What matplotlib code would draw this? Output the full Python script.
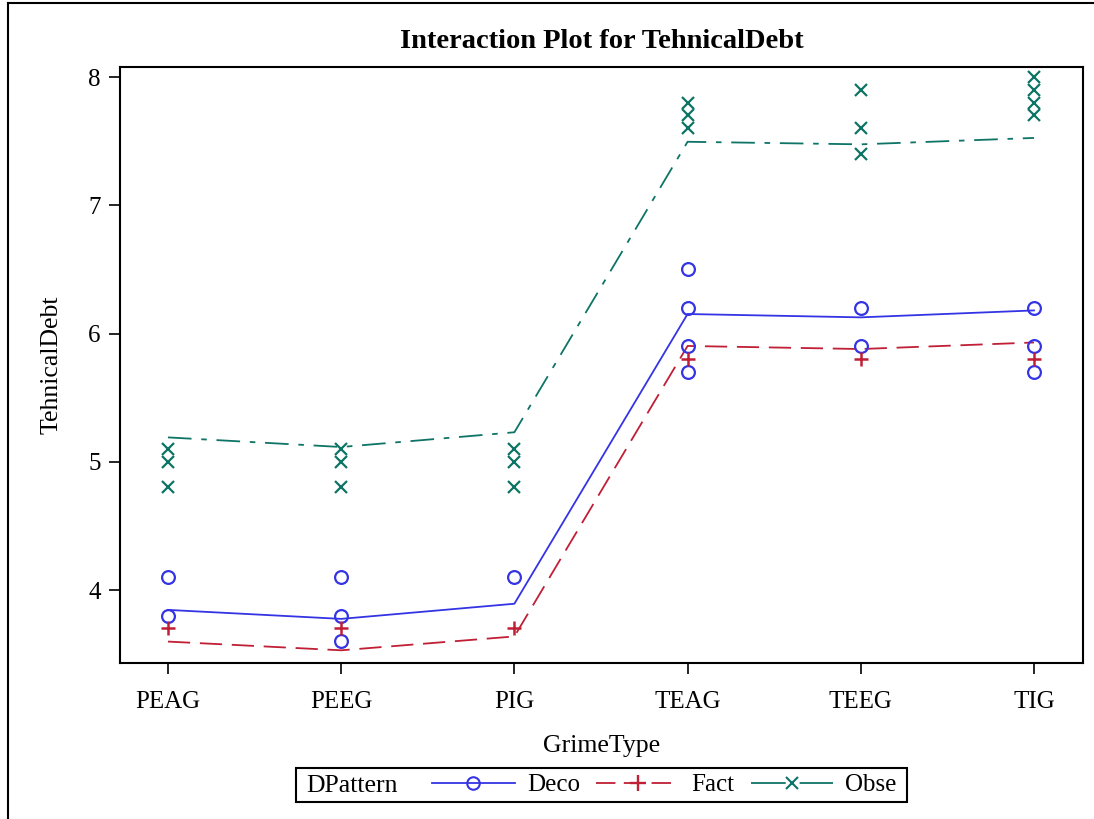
import matplotlib
matplotlib.use("Agg")
import matplotlib.pyplot as plt
from matplotlib.lines import Line2D
from matplotlib.patches import Rectangle

plt.rcParams['font.family'] = ['Liberation Serif', 'DejaVu Serif']
plt.rcParams['lines.scale_dashes'] = False

categories = ['PEAG', 'PEEG', 'PIG', 'TEAG', 'TEEG', 'TIG']
series = ['Deco', 'Fact', 'Obse']

# model-fitted lines (means)
deco_line = [3.845, 3.775, 3.893, 6.152, 6.126, 6.180]
fact_line = [3.598, 3.530, 3.638, 5.903, 5.879, 5.930]
obse_line = [5.190, 5.115, 5.230, 7.495, 7.475, 7.525]

# observed points (category index, value)
deco_pts_x = [0, 0, 1, 1, 1, 2, 3, 3, 3, 3, 4, 4, 5, 5, 5]
deco_pts_y = [4.1, 3.8, 4.1, 3.8, 3.6, 4.1, 6.5, 6.2, 5.9, 5.7, 6.2, 5.9, 6.2, 5.9, 5.7]
fact_pts_x = [0, 1, 2, 3, 4, 5]
fact_pts_y = [3.7, 3.7, 3.7, 5.8, 5.8, 5.8]
obse_pts_x = [0, 0, 0, 1, 1, 1, 2, 2, 2, 3, 3, 3, 4, 4, 4, 5, 5, 5, 5]
obse_pts_y = [5.1, 5.0, 4.8, 5.1, 5.0, 4.8, 5.1, 5.0, 4.8, 7.8, 7.7, 7.6,
              7.9, 7.6, 7.4, 8.0, 7.9, 7.8, 7.7]

blue = '#3434e4'
red = '#c01f35'
teal = '#0d7466'

fig = plt.figure(figsize=(10.94, 8.19), dpi=100)
ax = fig.add_axes([120/1094, 1-663/819, (1083-120)/1094, (663-67)/819])

xs = list(range(len(categories)))
ax.plot(xs, deco_line, color=blue, lw=1.3, ls='-')
ax.plot(xs, fact_line, color=red, lw=1.3, dashes=(16, 7))
ax.plot(xs, obse_line, color=teal, lw=1.3, dashes=(17, 7, 4, 7))

ms = 9.2
ax.plot(deco_pts_x, deco_pts_y, ls='none', marker='o', mfc='none', mec=blue, mew=1.6, ms=ms)
ax.plot(fact_pts_x, fact_pts_y, ls='none', marker='+', color=red, mew=1.8, ms=ms+1)
ax.plot(obse_pts_x, obse_pts_y, ls='none', marker='x', color=teal, mew=1.6, ms=ms-1)

ax.set_xlim(-0.277, 5.283)
ax.set_ylim(3.431, 8.078)
ax.set_xticks(xs)
ax.set_xticklabels(categories)
ax.set_yticks([4, 5, 6, 7, 8])
ax.tick_params(axis='both', direction='out', length=8, width=1.2, labelsize=18)
ax.tick_params(axis='x', pad=12)
ax.tick_params(axis='y', pad=6)
for s in ax.spines.values():
    s.set_linewidth(1.5)

ax.set_xlabel('GrimeType', fontsize=18.5, labelpad=16)
ax.set_ylabel('TehnicalDebt', fontsize=18.5, labelpad=18)
ax.set_title('Interaction Plot for TehnicalDebt', fontsize=20.5, fontweight='bold', pad=14)

# legend
handles = [
    Line2D([], [], color=blue, lw=1.3, marker='o', mfc='none', mec=blue, mew=1.5, ms=9),
    Line2D([], [], color=red, lw=1.3, dashes=(14, 6), marker='+', mew=1.7, ms=11),
    Line2D([], [], color=teal, lw=1.3, dashes=(25, 10), marker='x', mew=1.5, ms=8),
]
leg = fig.legend(handles, series, loc='center left', bbox_to_anchor=(432/1094, 1-785/819),
                 ncol=3, frameon=False, fontsize=18, handlelength=3.3,
                 handletextpad=0.5, columnspacing=0.65, borderaxespad=0, borderpad=0)
fig.text(306/1094, 1-786/819, 'DPattern', fontsize=18.5, va='center', ha='left')
fig.patches.append(Rectangle((296/1094, 1-802/819), (907-296)/1094, 34/819,
                             transform=fig.transFigure, fill=False, lw=1.5, ec='black'))

# outer frame (left and top edges)
fig.add_artist(Line2D([8/1094, 8/1094], [0, 1-3/819], transform=fig.transFigure, color='black', lw=1.5))
fig.add_artist(Line2D([8/1094, 1], [1-3/819, 1-3/819], transform=fig.transFigure, color='black', lw=1.5))

fig.savefig('out.png', dpi=100)
